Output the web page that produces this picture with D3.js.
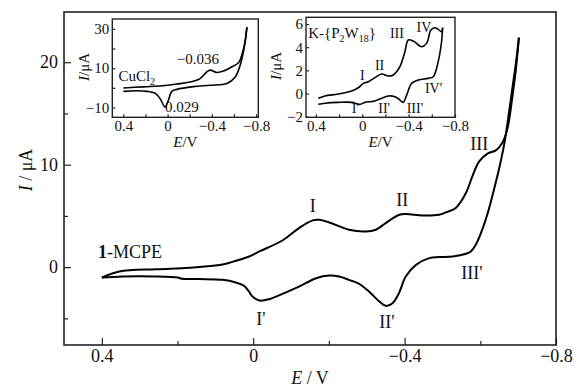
<!DOCTYPE html>
<html>
<head>
<meta charset="utf-8">
<script src="https://cdn.jsdelivr.net/npm/d3@7"></script>
<style>
body { margin: 0; background: #fff; }
text { font-family: "Liberation Serif", "Times New Roman", serif; fill: #111; }
</style>
</head>
<body>
<script>
// main CV (1-MCPE), forward and return branches
var mainFwdE = [0.4, 0.354, 0.257, 0.169, 0.081, 0.046, 0.011, -0.016, -0.077, -0.121, -0.157, -0.174, -0.201, -0.253, -0.297, -0.324, -0.35, -0.386, -0.404, -0.447, -0.491, -0.509, -0.535, -0.562, -0.579, -0.597, -0.619, -0.641, -0.658, -0.671, -0.685, -0.694, -0.702];
var mainFwdI = [-1.02, -0.43, -0.2, -0.07, 0.25, 0.62, 1.04, 1.53, 2.6, 3.81, 4.56, 4.62, 4.36, 3.65, 3.48, 3.65, 4.3, 5.11, 5.18, 5.04, 5.11, 5.34, 5.77, 7.23, 8.86, 10.32, 11.08, 11.4, 12.12, 13.4, 16.7, 19.3, 22.4];
var mainRevE = [-0.702, -0.694, -0.683, -0.672, -0.663, -0.651, -0.636, -0.621, -0.605, -0.588, -0.575, -0.562, -0.527, -0.491, -0.465, -0.43, -0.403, -0.385, -0.368, -0.35, -0.333, -0.306, -0.28, -0.253, -0.227, -0.201, -0.166, -0.121, -0.077, -0.042, -0.016, 0.002, 0.011, 0.024, 0.046, 0.081, 0.143, 0.187, 0.2, 0.257, 0.345, 0.4];
var mainRevI = [22.4, 19.9, 17.0, 14.1, 11.95, 9.83, 7.56, 5.44, 3.65, 2.18, 1.53, 1.3, 1.04, 0.98, 0.88, 0.22, -0.92, -2.54, -3.52, -3.78, -3.36, -2.38, -1.63, -1.24, -0.92, -0.82, -1.08, -1.9, -2.61, -3.13, -3.26, -2.87, -2.4, -1.83, -1.5, -1.24, -1.17, -1.14, -1.02, -0.92, -0.92, -1.02];

// inset CuCl2
var cuFwdE = [0.4, 0.219, 0.068, -0.083, -0.233, -0.294, -0.355, -0.385, -0.445, -0.505, -0.566, -0.641, -0.671, -0.701, -0.717];
var cuFwdI = [-0.1, 0.5, 0.9, 1.9, 3.3, 4.7, 8.1, 9.0, 7.8, 8.5, 10.2, 12.7, 16.7, 23.5, 30.9];
var cuRevE = [-0.717, -0.686, -0.656, -0.611, -0.536, -0.385, -0.233, -0.083, -0.038, -0.007, 0.023, 0.068, 0.113, 0.188, 0.279, 0.4];
var cuRevI = [30.9, 18.4, 11.5, 5.5, 2.2, 1.3, 0.6, -0.8, -1.8, -6.4, -9.8, -5.5, -2.8, -1.8, -1.5, -1.8];

// inset K-{P2W18}
var pwFwdE = [0.379, 0.322, 0.207, 0.091, 0.034, -0.009, -0.052, -0.109, -0.167, -0.224, -0.267, -0.325, -0.368, -0.397, -0.44, -0.512, -0.555, -0.592, -0.627, -0.655, -0.684, -0.693];
var pwFwdI = [-0.41, -0.21, -0.04, 0.22, 0.5, 0.88, 1.02, 1.37, 1.69, 1.51, 1.6, 2.32, 3.61, 4.62, 4.53, 4.04, 4.33, 5.48, 5.68, 5.54, 5.34, 5.68];
var pwRevE = [-0.693, -0.684, -0.655, -0.612, -0.569, -0.483, -0.426, -0.383, -0.353, -0.325, -0.282, -0.224, -0.167, -0.109, -0.023, 0.02, 0.091, 0.207, 0.322, 0.379];
var pwRevI = [5.68, 4.47, 2.75, 1.45, 1.31, 1.17, 0.88, -0.13, -0.76, -0.56, -0.27, -0.21, -0.41, -0.64, -0.76, -0.93, -0.76, -0.76, -0.84, -0.93];

// ticks
var eTicks = [0.4, 0, -0.4, -0.8];
var eMinor = [0.2, -0.2, -0.6];
var mainITicks = [0, 10, 20];
var mainIMinor = [-5, 5, 15];
var cuITicks = [-10, 0, 10, 20, 30];
var cuILabels = [-10, 10, 30];
var pwITicks = [-2, 0, 2, 4, 6];

// peak labels [text, E, I]
var mainPeaks = [["I", -0.157, 5.34], ["II", -0.394, 5.92], ["III", -0.597, 11.47],
                 ["I'", -0.02, -5.64], ["II'", -0.353, -5.93], ["III'", -0.578, -1.14]];
var pwPeaks = [["III", -0.239, 4.77], ["IV", -0.469, 5.34], ["I", 0.02, 1.17], ["II", -0.109, 2.03],
               ["IV'", -0.541, 0.02], ["I'", 0.091, -1.7], ["II'", -0.138, -1.7], ["III'", -0.383, -1.7]];

var fmt = d3.format("~g");
var svg = d3.select("body").append("svg").attr("width", 584).attr("height", 389);
svg.append("rect").attr("width", 584).attr("height", 389).attr("fill", "#fff");

function zip(a, b) { return a.map(function(v, i) { return [v, b[i]]; }); }

function drawPanel(o) {
    var x = d3.scaleLinear().domain(o.xDomain).range([o.left, o.right]);
    var y = d3.scaleLinear().domain(o.yDomain).range([o.bottom, o.top]);
    var g = svg.append("g");

    g.append("rect").attr("x", o.left).attr("y", o.top)
        .attr("width", o.right - o.left).attr("height", o.bottom - o.top)
        .attr("fill", "#fff").attr("stroke", "#222").attr("stroke-width", o.frameW);

    function clean(s) {
        s.select(".domain").remove();
        s.selectAll("line").attr("stroke", "#222").attr("stroke-width", 1.2);
        s.attr("font-size", o.fs).attr("font-family", null);
    }

    g.append("g").attr("transform", "translate(0," + o.bottom + ")")
        .call(d3.axisBottom(x).tickValues(eMinor).tickSize(-o.minorLen).tickFormat(""))
        .call(clean);
    g.append("g").attr("transform", "translate(0," + o.bottom + ")")
        .call(d3.axisBottom(x).tickValues(eTicks).tickSize(-o.majorLen).tickPadding(o.xPad).tickFormat(fmt))
        .call(clean);
    if (o.yMinor) {
        g.append("g").attr("transform", "translate(" + o.left + ",0)")
            .call(d3.axisLeft(y).tickValues(o.yMinor).tickSize(-o.minorLen).tickFormat(""))
            .call(clean);
    }
    g.append("g").attr("transform", "translate(" + o.left + ",0)")
        .call(d3.axisLeft(y).tickValues(o.yTicks).tickSize(-o.majorLen).tickPadding(o.yPad)
            .tickFormat(function(d) { return (!o.yLabels || o.yLabels.indexOf(d) >= 0) ? fmt(d) : ""; }))
        .call(clean);

    // axis titles
    var xt = g.append("text").attr("x", (o.left + o.right) / 2).attr("y", o.xTitleY)
        .attr("text-anchor", "middle").attr("font-size", o.titleFs);
    xt.append("tspan").attr("font-style", "italic").text("E");
    xt.append("tspan").text(o.sep + "/" + o.sep + "V");
    var yt = g.append("text").attr("transform", "translate(" + o.yTitleX + "," + o.yTitleC + ") rotate(-90)")
        .attr("text-anchor", "middle").attr("font-size", o.titleFs);
    yt.append("tspan").attr("font-style", "italic").text("I");
    yt.append("tspan").text(o.sep + "/" + o.sep + "\u03bcA");

    var line = d3.line().x(function(d) { return x(d[0]); }).y(function(d) { return y(d[1]); })
        .curve(d3.curveCatmullRom.alpha(0.5));
    o.series.forEach(function(s) {
        g.append("path").attr("d", line(s)).attr("fill", "none")
            .attr("stroke", "#000").attr("stroke-width", o.lineW).attr("stroke-linejoin", "round");
    });
    return {x: x, y: y, g: g};
}

var main = drawPanel({
    left: 64, right: 556, top: 12, bottom: 345,
    xDomain: [0.5, -0.8], yDomain: [-7.6, 24.9],
    yTicks: mainITicks, yMinor: mainIMinor,
    majorLen: 7, minorLen: 4, xPad: 4, yPad: 6, fs: 18, titleFs: 18, frameW: 1.6, lineW: 2,
    xTitleY: 384, yTitleX: 32, yTitleC: 170, sep: " ",
    series: [zip(mainFwdE, mainFwdI), zip(mainRevE, mainRevI)]
});
main.g.selectAll(".peak").data(mainPeaks).enter().append("text")
    .attr("x", function(d) { return main.x(d[1]); })
    .attr("y", function(d) { return main.y(d[2]); })
    .attr("text-anchor", "middle").attr("font-size", 18)
    .text(function(d) { return d[0]; });
var mcpe = main.g.append("text").attr("x", main.x(0.41)).attr("y", main.y(0.88)).attr("font-size", 18);
mcpe.append("tspan").attr("font-weight", "bold").text("1");
mcpe.append("tspan").text("-MCPE");

var cu = drawPanel({
    left: 112.3, right: 258.3, top: 19, bottom: 117.3,
    xDomain: [0.5, -0.82], yDomain: [-15, 35],
    yTicks: cuITicks, yLabels: cuILabels,
    majorLen: 3, minorLen: 3, xPad: 3, yPad: 3, fs: 15, titleFs: 15, frameW: 1.4, lineW: 1.6,
    xTitleY: 146.7, yTitleX: 89, yTitleC: 67, sep: "",
    series: [zip(cuFwdE, cuFwdI), zip(cuRevE, cuRevI)]
});
var cuLab = cu.g.append("text").attr("x", cu.x(0.445)).attr("y", cu.y(3.3)).attr("font-size", 15);
cuLab.append("tspan").text("CuCl");
cuLab.append("tspan").attr("font-size", 10).attr("dy", 4).text("2");
cu.g.append("text").attr("x", cu.x(-0.083)).attr("y", cu.y(11.9)).attr("font-size", 15).text("\u22120.036");
cu.g.append("text").attr("x", cu.x(0.023)).attr("y", cu.y(-12.4)).attr("font-size", 15).text("0.029");

var pw = drawPanel({
    left: 306, right: 455, top: 17.3, bottom: 117.3,
    xDomain: [0.485, -0.8], yDomain: [-2.05, 6.58],
    yTicks: pwITicks,
    majorLen: 3, minorLen: 3, xPad: 3, yPad: 3, fs: 15, titleFs: 15, frameW: 1.4, lineW: 1.6,
    xTitleY: 146.7, yTitleX: 281, yTitleC: 66, sep: "",
    series: [zip(pwFwdE, pwFwdI), zip(pwRevE, pwRevI)]
});
pw.g.selectAll(".peak").data(pwPeaks).enter().append("text")
    .attr("x", function(d) { return pw.x(d[1]); })
    .attr("y", function(d) { return pw.y(d[2]); })
    .attr("font-size", 14)
    .text(function(d) { return d[0]; });
var pwLab = pw.g.append("text").attr("x", pw.x(0.466)).attr("y", pw.y(4.82)).attr("font-size", 15);
pwLab.append("tspan").text("K-{P");
pwLab.append("tspan").attr("font-size", 10).attr("dy", 4).text("2");
pwLab.append("tspan").attr("dy", -4).text("W");
pwLab.append("tspan").attr("font-size", 10).attr("dy", 4).text("18");
pwLab.append("tspan").attr("dy", -4).text("}");
</script>
</body>
</html>
